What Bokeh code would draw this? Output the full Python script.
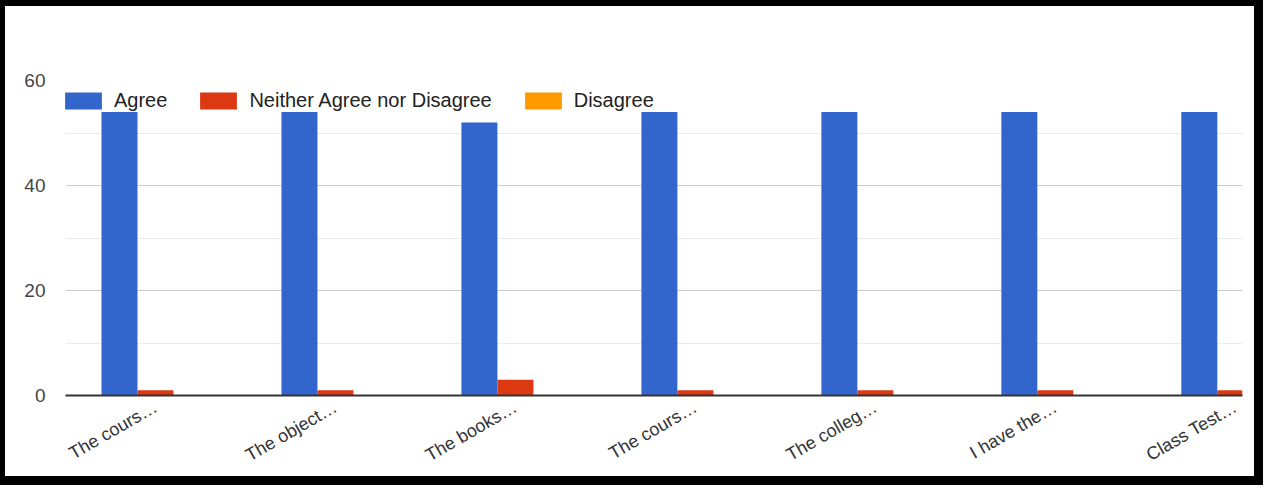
from math import pi
from bokeh.plotting import figure
from bokeh.models import ColumnDataSource, Range1d, FixedTicker
from bokeh.transform import dodge
from bokeh.embed import file_html
from bokeh.resources import INLINE

questions = ["The cours…", "The object…", "The books…", "The cours…",
             "The colleg…", "I have the…", "Class Test…"]
agree = [54, 54, 52, 54, 54, 54, 54]
neither = [1, 1, 3, 1, 1, 1, 1]
disagree = [0, 0, 0, 0, 0, 0, 0]
series_names = ["Agree", "Neither Agree nor Disagree", "Disagree"]
colors = ["#3366cc", "#dc3912", "#ff9900"]
y_ticks = [0, 20, 40, 60]
y_minor = [10, 30, 50]

idx = list(range(len(questions)))
src = ColumnDataSource(dict(x=idx, agree=agree, neither=neither, disagree=disagree))

FONT = "Liberation Sans"

p = figure(width=1249, height=470, output_backend="svg", toolbar_location=None,
           x_range=Range1d(-0.5, 6.04), y_range=Range1d(0, 60),
           min_border_left=60, min_border_right=12, min_border_top=74,
           min_border_bottom=81,
           styles={"outline": "9px solid black",
                   "transform": "translate(5px, 6px)"})
p.outline_line_color = None
p.background_fill_color = "white"
p.border_fill_color = "white"

for off, col, name, c in zip([-0.2, 0.0, 0.2], ["agree", "neither", "disagree"],
                             series_names, colors):
    p.vbar(x=dodge("x", off, range=p.x_range), top=col, width=0.2, source=src,
           fill_color=c, line_color=None, legend_label=name)

# y axis
p.yaxis.ticker = FixedTicker(ticks=y_ticks, minor_ticks=y_minor)
p.yaxis.axis_line_color = None
p.yaxis.major_tick_line_color = None
p.yaxis.minor_tick_line_color = None
p.yaxis.major_tick_out = 0
p.yaxis.major_tick_in = 0
p.yaxis.minor_tick_out = 0
p.yaxis.major_label_standoff = 20
p.yaxis.major_label_text_font = FONT
p.yaxis.major_label_text_font_size = "19px"
p.yaxis.major_label_text_color = "#444444"
p.ygrid.grid_line_color = "#cccccc"
p.ygrid.minor_grid_line_color = "#ebebeb"
p.xgrid.grid_line_color = None

# x axis
p.xaxis.ticker = FixedTicker(ticks=idx)
p.xaxis.major_label_overrides = {i: q for i, q in zip(idx, questions)}
p.xaxis.major_label_orientation = pi / 6
p.xaxis.axis_line_color = "#333333"
p.xaxis.axis_line_width = 2
p.xaxis.major_tick_line_color = None
p.xaxis.minor_tick_line_color = None
p.xaxis.major_tick_out = 0
p.xaxis.major_tick_in = 0
p.xaxis.major_label_standoff = 10
p.xaxis.major_label_text_font = FONT
p.xaxis.major_label_text_font_size = "18px"
p.xaxis.major_label_text_color = "#333333"

# legend
lg = p.legend[0]
lg.orientation = "horizontal"
lg.location = (-5, 283)
lg.glyph_width = 46
lg.glyph_height = 21
lg.label_standoff = 8
lg.spacing = 28
lg.padding = 0
lg.margin = 0
lg.border_line_color = None
lg.background_fill_alpha = 0
lg.label_text_font = FONT
lg.label_text_font_size = "20px"
lg.label_text_color = "#222222"

open("out.html", "w").write(file_html(p, INLINE))
